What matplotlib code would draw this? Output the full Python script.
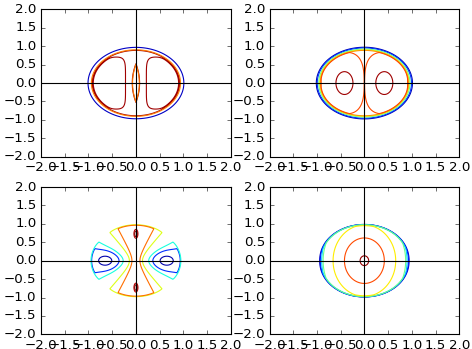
import numpy as np
import matplotlib
matplotlib.use("Agg")
import matplotlib.pyplot as plt

plt.style.use("classic")

# outline of each field: x and y semi axes, outer edge and ramp width
rim = [[1.0, 0.96, 1.02, 0.10],
       [1.0, 0.96, 1.02, 0.10],
       [0.96, 0.99, 1.0, 0.04],
       [0.97, 0.99, 1.0, 0.04]]

# panel 1: plateau, two D shaped dips, thin lens at the centre
p1_levels = [0.10, 0.80, 0.95]
p1_dip_centre = 0.60
p1_dip_size = [0.38, 0.71]
p1_dip_outer = 0.90
p1_dip_depth = 0.10
p1_lens_size = [0.07, 0.50]
p1_lens_depth = 0.50

# panel 2: two lobes with a peak in each
p2_levels = [0.05, 0.20, 0.45, 0.60, 0.72, 0.80, 0.95]
p2_base = 0.76
p2_lobe_centre = 0.46
p2_lobe_size = [0.44, 0.82]
p2_lobe_height = 0.10
p2_peak_centre = 0.42
p2_peak_width = [0.237, 0.409]
p2_peak_height = 0.16

# panel 3: saddle, wells on the x axis, spikes on the y axis
p3_levels = [-0.92, -0.50, -0.25, 0.25, 0.50, 0.90, 1.10]
p3_saddle = [0.72, 1.44, 0.04]
p3_well = [-0.50, 0.62, 0.05]
p3_spike = [0.60, 0.73, 0.0015, 0.012]

# panel 4: single peak, stretched along y
p4_levels = [0.04, 0.07, 0.10, 0.13, 0.34, 0.58, 0.91]
p4_stretch = 1.47

# line colours, as positions in jet
p1_cpos = [0.06, 0.78, 0.97]
p2_cpos = [0.05, 0.18, 0.45, 0.62, 0.75, 0.83, 0.97]
p3_cpos = [0.04, 0.17, 0.38, 0.62, 0.79, 0.95, 1.0]
p4_cpos = [0.06, 0.15, 0.33, 0.48, 0.66, 0.83, 0.98]
# panel 1 draws its orange lines last so the lens stays orange
p1_order = [0, 2, 1]


def sigm(z):
    return 0.5 * (1.0 + np.tanh(0.5 * z))


x = np.linspace(-2, 2, 801)
X, Y = np.meshgrid(x, x)
AX, AY = np.abs(X), np.abs(Y)


def edge(r):
    e = np.hypot(X / r[0], Y / r[1])
    return e, np.clip((r[2] - e) / r[3], 0, 1)


# panel 1
E, ramp = edge(rim[0])
S = np.abs((AX - p1_dip_centre) / p1_dip_size[0]) ** 6 + (AY / p1_dip_size[1]) ** 6
dip = sigm((1 - S) / 0.15) * sigm((p1_dip_outer - E) / 0.02)
lens_w = p1_lens_size[0] * (1 - (Y / p1_lens_size[1]) ** 2)
lens = sigm((lens_w - AX) / 0.003)
f1 = (1 - p1_dip_depth * dip - p1_lens_depth * lens) * ramp

# panel 2
E, ramp = edge(rim[1])
S = np.abs((AX - p2_lobe_centre) / p2_lobe_size[0]) ** 3 + (AY / p2_lobe_size[1]) ** 3
lobe = sigm((1 - S) / 0.15)
peak = np.exp(-((AX - p2_peak_centre) / p2_peak_width[0]) ** 2
              - (Y / p2_peak_width[1]) ** 2)
f2 = (p2_base + p2_lobe_height * lobe + p2_peak_height * peak) * ramp

# panel 3
E, ramp = edge(rim[2])
saddle = p3_saddle[0] - p3_saddle[1] * X ** 2 / (X ** 2 + Y ** 2 + p3_saddle[2])
well = p3_well[0] * np.exp(-((AX - p3_well[1]) ** 2 + Y ** 2) / p3_well[2])
spike = p3_spike[0] * np.exp(-X ** 2 / p3_spike[2] - (AY - p3_spike[1]) ** 2 / p3_spike[3])
f3 = (saddle + well + spike) * ramp

# panel 4
E, ramp = edge(rim[3])
f4 = (1 - np.hypot(X, Y / p4_stretch)) * ramp

fields = [f1, f2, f3, f4]
levels = [p1_levels, p2_levels, p3_levels, p4_levels]
cpos = [p1_cpos, p2_cpos, p3_cpos, p4_cpos]
orders = [p1_order, None, None, None]

fig, axes = plt.subplots(2, 2, figsize=(5.9, 4.3625), facecolor="white")
fig.subplots_adjust(left=0.087, right=0.973, top=0.973, bottom=0.042,
                    wspace=0.204, hspace=0.206)

ticks = np.arange(-2, 2.01, 0.5)
for ax, f, lv, cp, order in zip(axes.flat, fields, levels, cpos, orders):
    if order is None:
        order = range(len(lv))
    for i in order:
        ax.contour(X, Y, f, levels=[lv[i]], colors=[plt.cm.jet(cp[i])],
                   linewidths=1.0, linestyles="solid")
    ax.axhline(0, color="k", lw=1.0)
    ax.axvline(0, color="k", lw=1.0)
    ax.set_xlim(-2, 2)
    ax.set_ylim(-2, 2)
    ax.set_xticks(ticks)
    ax.set_yticks(ticks)

fig.savefig("out.png", dpi=80, facecolor="white")
